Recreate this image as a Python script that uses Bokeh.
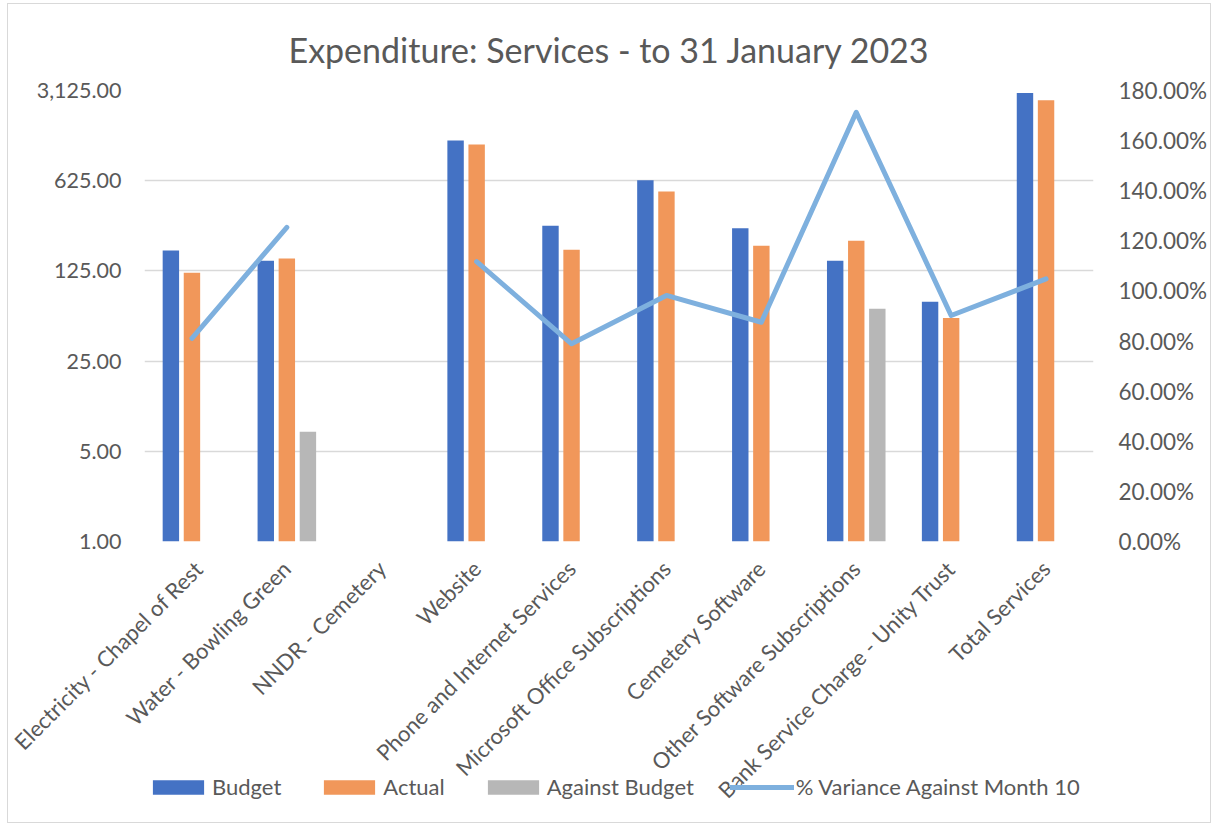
import math
import numpy as np
from bokeh.plotting import figure
from bokeh.layouts import column
from bokeh.models import (FactorRange, ColumnDataSource, LinearAxis, Range1d, FixedTicker,
                          NumeralTickFormatter, Legend, LegendItem, Title, LinearScale)
from bokeh.transform import dodge
from bokeh.embed import file_html
from bokeh.resources import INLINE

categories = ["Electricity - Chapel of Rest", "Water - Bowling Green", "NNDR - Cemetery",
              "Website", "Phone and Internet Services", "Microsoft Office Subscriptions",
              "Cemetery Software", "Other Software Subscriptions",
              "Bank Service Charge - Unity Trust", "Total Services"]
budget = [180, 150, None, 1280, 280, 630, 268, 150, 72, 2995]
actual = [121, 156, None, 1192, 182, 515, 196, 214, 54, 2624]
against_budget = [None, 7.1, None, None, None, None, None, 63.6, None, None]
variance_pct = [81.1, 125.4, None, 111.7, 78.9, 98.2, 87.5, 171.3, 90.2, 104.8]
left_ticks = [1, 5, 25, 125, 625, 3125]
right_ticks = [0.0, 0.2, 0.4, 0.6, 0.8, 1.0, 1.2, 1.4, 1.6, 1.8]
series_names = ["Budget", "Actual", "Against Budget", "% Variance Against Month 10"]
colors = ["#4472C4", "#F1975A", "#B7B7B7", "#7EB0DE"]

FONT = "Lato"
TXT = "#595959"

W = 1202
TOP = 86
BOT = 276
H = TOP + 451 + BOT
p = figure(x_range=FactorRange(*categories), y_axis_type="log", y_range=(1, 3125),
           width=W, height=H, output_backend="svg", toolbar_location=None,
           min_border_left=136, min_border_right=108, min_border_top=TOP,
           min_border_bottom=BOT)
p.outline_line_color = None
p.extra_y_ranges = {"pct": Range1d(0, 1.8)}
p.extra_y_scales = {"pct": LinearScale()}

p.title = Title(text="Expenditure: Services - to 31 January 2023", align="left",
                text_font=FONT, text_font_size="34px", text_color=TXT,
                text_font_style="normal", offset=144, standoff=42)


def src(vals):
    c = [cat for cat, v in zip(categories, vals) if v is not None]
    v = [v for v in vals if v is not None]
    return ColumnDataSource(dict(cat=c, top=v))


bw = 0.173
off = 0.222
p.vbar(x=dodge("cat", -off, range=p.x_range), top="top", bottom=1, width=bw,
       source=src(budget), fill_color=colors[0], line_color=None)
p.vbar(x=dodge("cat", 0, range=p.x_range), top="top", bottom=1, width=bw,
       source=src(actual), fill_color=colors[1], line_color=None)
p.vbar(x=dodge("cat", off, range=p.x_range), top="top", bottom=1, width=bw,
       source=src(against_budget), fill_color=colors[2], line_color=None)

var_arr = np.array([np.nan if v is None else v / 100.0 for v in variance_pct], dtype=float)
line_src = ColumnDataSource(dict(cat=categories, v=var_arr))
p.line(x="cat", y="v", source=line_src, y_range_name="pct", line_color=colors[3],
       line_width=5, line_cap="round", line_join="round")

# axes
yl = p.yaxis[0]
yl.ticker = FixedTicker(ticks=left_ticks)
yl.formatter = NumeralTickFormatter(format="0,0.00")
yr = LinearAxis(y_range_name="pct", ticker=FixedTicker(ticks=right_ticks),
                formatter=NumeralTickFormatter(format="0.00%"))
p.add_layout(yr, "right")
for ax in [yl, yr]:
    ax.axis_line_color = None
    ax.major_tick_line_color = None
    ax.minor_tick_line_color = None
    ax.major_label_text_font = FONT
    ax.major_label_text_color = TXT
yl.major_label_text_font_size = "21.5px"
yl.major_label_standoff = 17
yr.major_label_text_font_size = "22.5px"
yr.major_label_standoff = 19

xa = p.xaxis[0]
xa.axis_line_color = None
xa.major_tick_line_color = None
xa.major_label_orientation = math.pi / 4
xa.major_label_text_font = FONT
xa.major_label_text_font_size = "22px"
xa.major_label_text_color = TXT
xa.major_label_standoff = 17

p.xgrid.grid_line_color = None
p.ygrid.grid_line_color = "#d9d9d9"
p.ygrid.grid_line_width = 1.5

# legend strip (its frame is aligned with the chart's frame by the column layout)
LH = 60
leg = figure(width=W, height=LH, output_backend="svg", toolbar_location=None,
             x_range=(0, 1), y_range=(0, 1), min_border=0,
             x_axis_location=None, y_axis_location=None)
leg.grid.visible = False
leg.outline_line_color = None
leg.background_fill_alpha = 0
leg.border_fill_alpha = 0
leg.styles = {"margin-top": "-55px"}
# swatch-only renderers: their own marks lie far below the strip's visible area
lr = [leg.vbar(x=[0.5], top=[-20], bottom=-21, width=0.05, fill_color=c, line_color=None)
      for c in colors[:3]]
lr.append(leg.line(x=[0.4, 0.6], y=[-20, -20], line_color=colors[3], line_width=5,
                   line_cap="round"))
legend = Legend(items=[LegendItem(label=n, renderers=[r]) for n, r in zip(series_names, lr)],
                orientation="horizontal", location=(2, 22),
                glyph_width=64, glyph_height=18, label_standoff=2, spacing=36,
                padding=0, margin=0, border_line_color=None, background_fill_alpha=0,
                label_text_font=FONT, label_text_font_size="22px", label_text_color=TXT,
                label_height=20)
leg.add_layout(legend, "center")

layout = column(p, leg, spacing=0,
                styles={"border": "1px solid #d9d9d9", "margin-left": "7px", "margin-top": "3px"})

open("out.html", "w").write(file_html(layout, INLINE))
